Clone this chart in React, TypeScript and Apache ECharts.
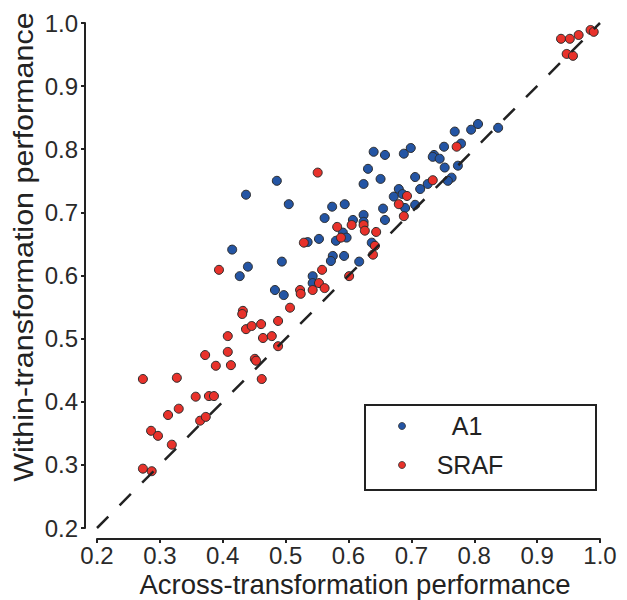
import React, { useEffect, useRef } from 'react';
import * as echarts from 'echarts';

const FONT = '"Liberation Sans", Arial, Helvetica, sans-serif';

// Axis settings
const axisMin = 0.2;
const axisMax = 1.0;
const axisStep = 0.1;

// A1 series (across, within)
const a1Across = [0.486, 0.437, 0.415, 0.440, 0.427, 0.494, 0.483, 0.497, 0.505, 0.543, 0.543, 0.535, 0.553, 0.580, 0.591, 0.597, 0.575, 0.572, 0.593, 0.617, 0.637, 0.562, 0.574, 0.594, 0.607, 0.624, 0.624, 0.655, 0.658, 0.624, 0.631, 0.651, 0.640, 0.658, 0.688, 0.699, 0.706, 0.726, 0.714, 0.680, 0.672, 0.686, 0.690, 0.706, 0.736, 0.734, 0.745, 0.753, 0.774, 0.764, 0.758, 0.752, 0.779, 0.769, 0.795, 0.806, 0.838];
const a1Within = [0.750, 0.728, 0.641, 0.614, 0.599, 0.622, 0.577, 0.569, 0.713, 0.599, 0.588, 0.653, 0.658, 0.655, 0.668, 0.660, 0.631, 0.623, 0.631, 0.622, 0.652, 0.691, 0.709, 0.713, 0.688, 0.696, 0.685, 0.706, 0.688, 0.745, 0.769, 0.753, 0.796, 0.791, 0.793, 0.802, 0.756, 0.745, 0.737, 0.737, 0.725, 0.729, 0.707, 0.712, 0.791, 0.788, 0.785, 0.771, 0.774, 0.755, 0.750, 0.804, 0.809, 0.828, 0.831, 0.840, 0.834];

// SRAF series (across, within)
const srafAcross = [0.394, 0.432, 0.431, 0.437, 0.446, 0.461, 0.488, 0.507, 0.408, 0.464, 0.478, 0.488, 0.372, 0.408, 0.389, 0.413, 0.451, 0.453, 0.273, 0.327, 0.462, 0.357, 0.378, 0.386, 0.313, 0.330, 0.364, 0.373, 0.286, 0.297, 0.319, 0.273, 0.287, 0.551, 0.582, 0.605, 0.624, 0.626, 0.644, 0.588, 0.529, 0.734, 0.693, 0.680, 0.688, 0.642, 0.639, 0.558, 0.553, 0.562, 0.601, 0.523, 0.524, 0.543, 0.772, 0.938, 0.952, 0.966, 0.985, 0.990, 0.947, 0.957];
const srafWithin = [0.609, 0.544, 0.539, 0.515, 0.520, 0.523, 0.528, 0.549, 0.504, 0.501, 0.504, 0.488, 0.474, 0.479, 0.457, 0.458, 0.468, 0.465, 0.436, 0.438, 0.436, 0.408, 0.409, 0.409, 0.379, 0.389, 0.370, 0.376, 0.354, 0.346, 0.332, 0.294, 0.290, 0.763, 0.677, 0.680, 0.680, 0.671, 0.669, 0.660, 0.652, 0.751, 0.726, 0.713, 0.694, 0.647, 0.633, 0.609, 0.588, 0.580, 0.599, 0.577, 0.571, 0.577, 0.804, 0.975, 0.975, 0.981, 0.989, 0.986, 0.951, 0.948];

// Identity line
const diagonal = [0.2, 1.0];

const seriesNames = ['A1', 'SRAF'];
const xTitle = 'Across-transformation performance';
const yTitle = 'Within-transformation performance';

const BLUE = '#2455a4';
const RED = '#e8322b';
const INK = '#222';

export default function App() {
  const ref = useRef<HTMLDivElement>(null);
  useEffect(() => {
    document.body.style.margin = '0';
    const chart = echarts.init(ref.current!, null, { renderer: 'svg' });
    const pairs = (xs: number[], ys: number[]) => xs.map((x, i) => [x, ys[i]]);
    const axisCommon = {
      type: 'value',
      min: axisMin,
      max: axisMax,
      interval: axisStep,
      splitLine: { show: false },
      axisLine: { show: true, onZero: false, lineStyle: { color: INK, width: 2 } },
      axisTick: { show: true, length: 4, lineStyle: { color: INK, width: 2 } },
    };
    chart.setOption({
      animation: false,
      backgroundColor: '#fff',
      grid: { left: 97, right: 27, top: 23, bottom: 72, containLabel: false, outerBoundsMode: 'none' },
      xAxis: {
        ...axisCommon,
        offset: 11,
        axisLabel: {
          fontSize: 24, lineHeight: 24, color: '#2a2a2a', fontFamily: FONT, margin: 4,
          formatter: (v: number) => v.toFixed(1),
        },
      },
      yAxis: {
        ...axisCommon,
        offset: 12,
        axisLabel: {
          fontSize: 24, color: '#2a2a2a', fontFamily: FONT, margin: 7,
          formatter: (v: number) => v.toFixed(1),
        },
      },
      series: [
        {
          type: 'scatter', name: seriesNames[0], data: pairs(a1Across, a1Within),
          symbol: 'circle', symbolSize: 9,
          itemStyle: { color: BLUE, borderColor: '#2b2b2b', borderWidth: 1, opacity: 1 },
        },
        {
          type: 'scatter', name: seriesNames[1], data: pairs(srafAcross, srafWithin),
          symbol: 'circle', symbolSize: 9,
          itemStyle: { color: RED, borderColor: '#2b2b2b', borderWidth: 1, opacity: 1 },
        },
        {
          type: 'line', data: pairs(diagonal, diagonal), symbol: 'none', silent: true, z: 5,
          lineStyle: { color: INK, width: 2.5, type: [16, 16] },
        },
      ],
      graphic: [
        {
          type: 'rect', z: 10,
          shape: { x: 365, y: 405, width: 231, height: 85 },
          style: { fill: '#fff', stroke: INK, lineWidth: 2 },
        },
        {
          type: 'circle', z: 11,
          shape: { cx: 402, cy: 426, r: 3.5 },
          style: { fill: BLUE, stroke: '#333', lineWidth: 0.8 },
        },
        {
          type: 'circle', z: 11,
          shape: { cx: 402, cy: 465, r: 3.5 },
          style: { fill: RED, stroke: '#333', lineWidth: 0.8 },
        },
        {
          type: 'text', z: 11, x: 467, y: 426,
          style: { text: seriesNames[0], fontSize: 25, fontFamily: FONT, fill: INK, align: 'center', verticalAlign: 'middle' },
        },
        {
          type: 'text', z: 11, x: 470, y: 465,
          style: { text: seriesNames[1], fontSize: 25, fontFamily: FONT, fill: INK, align: 'center', verticalAlign: 'middle' },
        },
        {
          type: 'text', z: 11, x: 355, y: 584,
          style: { text: xTitle, fontSize: 27.5, fontFamily: FONT, fill: INK, align: 'center', verticalAlign: 'middle' },
        },
        {
          type: 'text', z: 11, x: 23, y: 247, rotation: Math.PI / 2, scaleX: 1.09,
          style: { text: yTitle, fontSize: 28, fontFamily: FONT, fill: INK, align: 'center', verticalAlign: 'middle' },
        },
      ],
    });
    return () => chart.dispose();
  }, []);
  return <div ref={ref} style={{ position: 'absolute', left: 0, top: 0, width: 627, height: 600 }} />;
}
